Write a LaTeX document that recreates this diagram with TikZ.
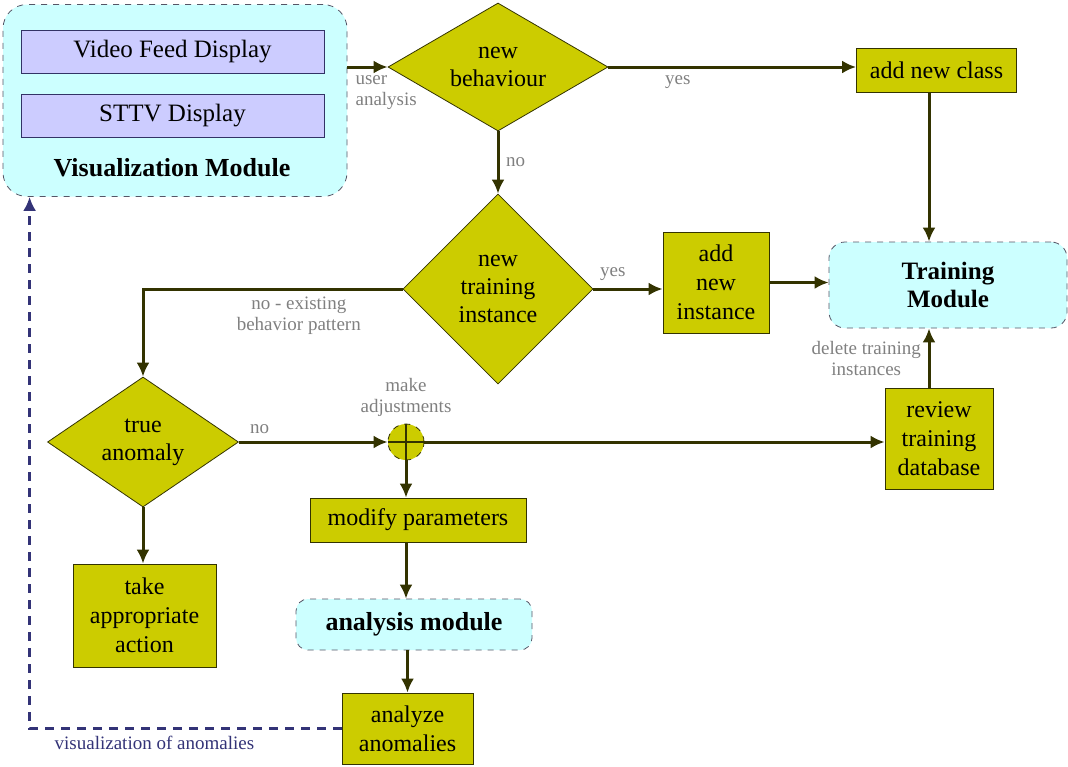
\documentclass[tikz,border=0pt]{standalone}
\usepackage{fontspec}
\setmainfont{Liberation Serif}
\usepackage{tikz}
\usetikzlibrary{shapes,arrows.meta}
\definecolor{fillol}{HTML}{CCCC00}
\definecolor{edgeol}{HTML}{333300}
\definecolor{modfill}{HTML}{CCFFFF}
\definecolor{modedge}{HTML}{555566}
\definecolor{dispfill}{HTML}{CCCCFF}
\definecolor{dispedge}{HTML}{333366}
\definecolor{vislink}{HTML}{333377}
\tikzstyle{block} = [rectangle, draw=edgeol, fill=fillol, 
    text centered, align=center, inner sep=1pt, font=\fontsize{12}{14.5}\selectfont]
\tikzstyle{decision} = [diamond, draw=edgeol, fill=fillol, 
    align=center, inner sep=0pt, font=\fontsize{12}{14}\selectfont]
\tikzstyle{module} = [rectangle, draw=modedge, dashed, fill=modfill, 
    align=center, font=\bfseries\fontsize{13}{14}\selectfont]
\tikzstyle{display} = [rectangle, draw=dispedge, fill=dispfill, font=\fontsize{12.5}{14}\selectfont]
\tikzstyle{line} = [draw=edgeol, line width=1.5pt, -{Latex[length=7pt, width=6.5pt]}]

\begin{document}
\begin{tikzpicture}[x=0.5pt, y=-0.5pt,
    lbl/.style={text=gray, align=center, font=\fontsize{9.5}{10.5}\selectfont}]
\useasboundingbox (0,0) rectangle (1068,766);

% visualization side
\node [module, rounded corners=12pt, minimum width=172pt, minimum height=96pt] at (175,100.5) (vis) {};
\node [display, minimum width=151.5pt, minimum height=21.5pt] at (172.5,51.5) (video) {Video Feed Display};
\node [display, minimum width=151.5pt, minimum height=21.5pt] at (172.5,115.5) (sttv) {STTV Display};
\node [font=\bfseries\fontsize{13}{15}\selectfont] at (172,168) (vistitle) {Visualization Module};

% decisions
\node [decision, aspect=1.7, minimum width=110pt, minimum height=64pt] at (498,67) (behav) {new\\behaviour};
\node [decision, minimum width=95pt, minimum height=95pt] at (498,289) (newinst) {new\\training\\instance};
\node [decision, aspect=1.5, minimum width=95.5pt, minimum height=65pt] at (143,442) (anomaly) {true\\anomaly};

% actions
\node [block, minimum width=80pt, minimum height=22pt] at (936.5,70) (addclass) {add new class};
\node [block, minimum width=53pt, minimum height=50.5pt] at (716,282.5) (addinst) {add\\new\\instance};
\node [module, rounded corners=8pt, minimum width=119pt, minimum height=43pt, font=\bfseries\fontsize{12.5}{14}\selectfont] at (948,285) (train) {Training\\Module};
\node [block, minimum width=54pt, minimum height=50.5pt] at (939,438.5) (review) {review\\training\\database};
\node [circle, draw=edgeol, dashed, fill=fillol, minimum size=18pt, inner sep=0pt] at (406,442) (adjust) {};
\node [lbl, anchor=south] at (adjust.north) (adjlbl) {make\\adjustments};
\node [block, minimum width=108pt, minimum height=22pt] at (418,520) (modify) {modify parameters};
\node [module, rounded corners=6pt, minimum width=118pt, minimum height=25.5pt] at (414,624.5) (anamod) {analysis module};
\node [block, minimum width=65.5pt, minimum height=35.5pt] at (407.5,728.5) (analyze) {analyze\\anomalies};
\node [block, minimum width=71.5pt, minimum height=51.5pt] at (144.5,615.5) (action) {take\\appropriate\\action};

\draw [edgeol, line width=0.8pt] (adjust.north) -- (adjust.south) (adjust.west) -- (adjust.east);

% connectors
\draw [line] (vis.east |- behav) -- node [lbl, pos=0, anchor=north west, align=left] {user\\analysis} (behav.west);
\draw [line] (behav.south) -- node [lbl, right] {no} (newinst.north);
\draw [line] (behav.east) -- node [lbl, pos=0.28, below] {yes} (behav.east -| addclass.west);
\draw [line] ([xshift=-3.75pt] addclass.south) -- ([xshift=-3.75pt] addclass.south |- train.north);
\draw [line] (newinst.east) -- node [lbl, pos=0.28, above] {yes} (newinst.east -| addinst.west);
\draw [line] (addinst.east) -- (addinst.east -| train.west);
\draw [line] (newinst.west) -| node [lbl, pos=0.2, below] {no - existing\\behavior pattern} (anomaly.north);
\draw [line] (anomaly.east) -- node [lbl, pos=0.14, above] {no} (adjust.west);
\draw [line] (adjust.east) -- (adjust.east -| review.west);
\draw [line] ([xshift=-5pt] review.north) -- node [lbl, left] {delete training\\instances} ([xshift=-5pt] review.north |- train.south);
\draw [line] (anomaly.south) -- (anomaly.south |- action.north);
\draw [line] (adjust.south) -- (adjust.south |- modify.north);
\draw [line] (adjust |- modify.south) -- (adjust |- anamod.north);
\draw [line] (analyze |- anamod.south) -- (analyze.north);
\draw [draw=vislink, line width=1.3pt, dash pattern=on 4.5pt off 3.5pt, -{Latex[length=7pt, width=6.5pt]}] (analyze.west) -| node [pos=0.3, below, text=vislink, font=\fontsize{9.5}{10.5}\selectfont] {visualization of anomalies} ([xshift=13.5pt] vis.south west);
\end{tikzpicture}
\end{document}
